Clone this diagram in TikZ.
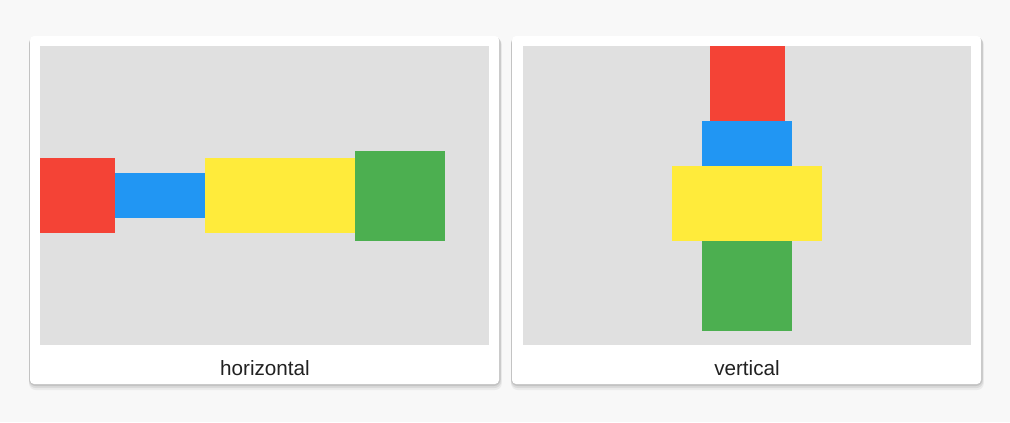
\documentclass[tikz,border=0pt]{standalone}
\usepackage{fontspec}
\setmainfont{Liberation Sans}
\usepackage{xcolor}
\usetikzlibrary{positioning}

\definecolor{pagebg}{HTML}{F8F8F8}
\definecolor{panelgray}{HTML}{E0E0E0}
\definecolor{mred}{HTML}{F44336}
\definecolor{mblue}{HTML}{2196F3}
\definecolor{myellow}{HTML}{FFEB3B}
\definecolor{mgreen}{HTML}{4CAF50}
\definecolor{captiontext}{HTML}{212121}

\begin{document}
\begin{tikzpicture}[
    x=0.75pt, y=-0.75pt,
    node distance=0pt,
    every node/.style={inner sep=0pt, outer sep=0pt},
    card/.style={fill=white, rounded corners=3pt},
    panel/.style={fill=panelgray},
    redbox/.style={fill=mred, minimum width=56.25pt, minimum height=56.25pt},
    bluebox/.style={fill=mblue, minimum width=67.5pt, minimum height=33.75pt},
    yellowbox/.style={fill=myellow, minimum width=112.5pt, minimum height=56.25pt},
    greenbox/.style={fill=mgreen, minimum width=67.5pt, minimum height=67.5pt},
    caption/.style={text=captiontext, font=\fontsize{15.5}{18}\selectfont}
]

% page
\fill[pagebg] (0,0) rectangle (1010,422);
\useasboundingbox (0,0) rectangle (1010,422);

% cards with a soft shadow
\foreach \cx in {30,512} {
    \foreach \s/\o in {6/0.05,4/0.07,2/0.10} {
        \fill[black, opacity=\o, rounded corners=5pt]
            (\cx-1,36+\s*0.3) rectangle (\cx+470+\s*0.3,384+\s);
    }
    \fill[card] (\cx,36) rectangle (\cx+469,384);
}

% panels
\fill[panel] (40,46) rectangle (489,345);
\fill[panel] (523,46) rectangle (971,345);

% Row, centered vertically
\node[redbox, anchor=west] (hred) at (40,195.5) {};
\node[bluebox, right=of hred] (hblue) {};
\node[yellowbox, right=of hblue] (hyellow) {};
\node[greenbox, right=of hyellow] (hgreen) {};

% Column, centered horizontally
\node[redbox, anchor=north] (vred) at (747,46) {};
\node[bluebox, below=of vred] (vblue) {};
\node[yellowbox, below=of vblue] (vyellow) {};
\node[greenbox, below=of vyellow] (vgreen) {};

% captions
\node[caption] (hcap) at (265,368) {horizontal};
\node[caption] (vcap) at (747,368) {vertical};

\end{tikzpicture}
\end{document}
